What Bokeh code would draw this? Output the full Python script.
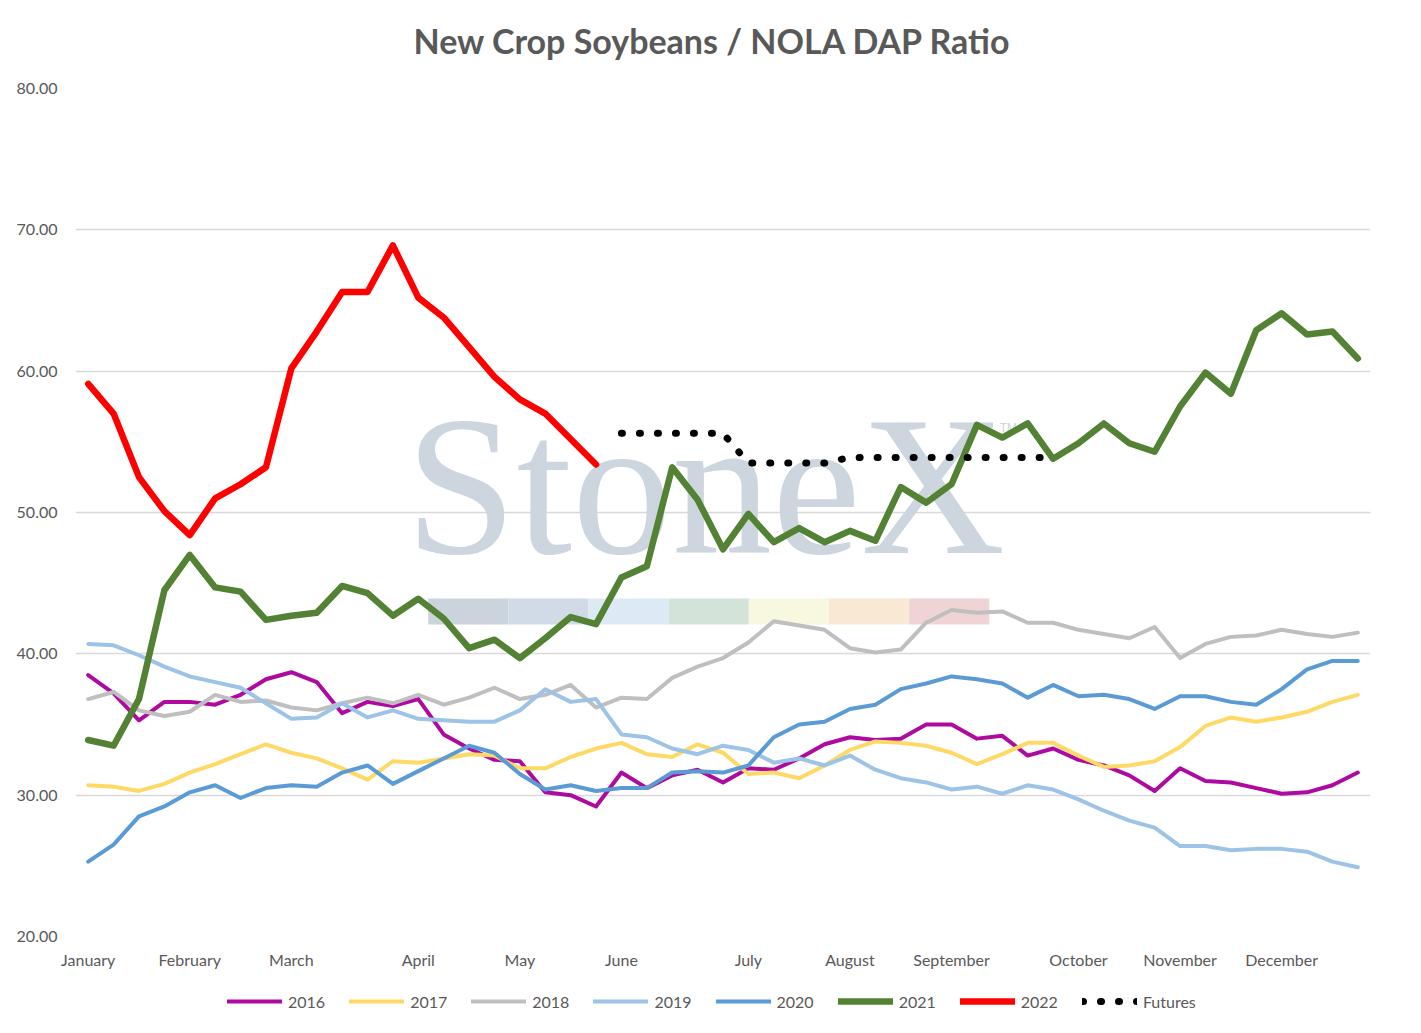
from bokeh.plotting import figure
from bokeh.layouts import column
from bokeh.models import (Range1d, FixedTicker, PrintfTickFormatter, Legend, LegendItem,
                          BoxAnnotation, Label)
from bokeh.embed import file_html
from bokeh.resources import INLINE

# ---------------- data ----------------
weeks = list(range(51))
month_ticks = [0, 4, 8, 13, 17, 21, 26, 30, 34, 39, 43, 47]
month_labels = ["January", "February", "March", "April", "May", "June", "July",
                "August", "September", "October", "November", "December"]
y_ticks = [20, 30, 40, 50, 60, 70, 80]

s2016 = [38.5, 37.2, 35.3, 36.6, 36.6, 36.4, 37.1, 38.2, 38.7, 38.0, 35.8, 36.6, 36.3, 36.8, 34.3,
         33.3, 32.5, 32.4, 30.2, 30.0, 29.2, 31.6, 30.5, 31.4, 31.8, 30.9, 31.9, 31.8, 32.6, 33.6,
         34.1, 33.9, 34.0, 35.0, 35.0, 34.0, 34.2, 32.8, 33.3, 32.5, 32.1, 31.4, 30.3, 31.9, 31.0,
         30.9, 30.5, 30.1, 30.2, 30.7, 31.6]
s2017 = [30.7, 30.6, 30.3, 30.8, 31.6, 32.2, 32.9, 33.6, 33.0, 32.6, 31.9, 31.1, 32.4, 32.3, 32.6,
         32.9, 32.8, 31.9, 31.9, 32.7, 33.3, 33.7, 32.9, 32.7, 33.6, 33.0, 31.5, 31.6, 31.2, 32.1,
         33.2, 33.8, 33.7, 33.5, 33.0, 32.2, 32.9, 33.7, 33.7, 32.8, 32.0, 32.1, 32.4, 33.4, 34.9,
         35.5, 35.2, 35.5, 35.9, 36.6, 37.1]
s2018 = [36.8, 37.3, 36.0, 35.6, 35.9, 37.1, 36.6, 36.7, 36.2, 36.0, 36.5, 36.9, 36.5, 37.1, 36.4,
         36.9, 37.6, 36.8, 37.1, 37.8, 36.2, 36.9, 36.8, 38.3, 39.1, 39.7, 40.8, 42.3, 42.0, 41.7,
         40.4, 40.1, 40.3, 42.2, 43.1, 42.9, 43.0, 42.2, 42.2, 41.7, 41.4, 41.1, 41.9, 39.7, 40.7,
         41.2, 41.3, 41.7, 41.4, 41.2, 41.5]
s2019 = [40.7, 40.6, 39.9, 39.1, 38.4, 38.0, 37.6, 36.5, 35.4, 35.5, 36.5, 35.5, 36.0, 35.4, 35.3,
         35.2, 35.2, 36.0, 37.5, 36.6, 36.8, 34.3, 34.1, 33.3, 32.9, 33.5, 33.2, 32.3, 32.6, 32.1,
         32.8, 31.8, 31.2, 30.9, 30.4, 30.6, 30.1, 30.7, 30.4, 29.7, 28.9, 28.2, 27.7, 26.4, 26.4,
         26.1, 26.2, 26.2, 26.0, 25.3, 24.9]
s2020 = [25.3, 26.5, 28.5, 29.2, 30.2, 30.7, 29.8, 30.5, 30.7, 30.6, 31.6, 32.1, 30.8, 31.7, 32.6,
         33.5, 33.0, 31.5, 30.4, 30.7, 30.3, 30.5, 30.5, 31.6, 31.7, 31.6, 32.1, 34.1, 35.0, 35.2,
         36.1, 36.4, 37.5, 37.9, 38.4, 38.2, 37.9, 36.9, 37.8, 37.0, 37.1, 36.8, 36.1, 37.0, 37.0,
         36.6, 36.4, 37.5, 38.9, 39.5, 39.5]
s2021 = [33.9, 33.5, 36.8, 44.5, 47.0, 44.7, 44.4, 42.4, 42.7, 42.9, 44.8, 44.3, 42.7, 43.9, 42.5,
         40.4, 41.0, 39.7, 41.1, 42.6, 42.1, 45.4, 46.2, 53.2, 50.9, 47.4, 49.9, 47.9, 48.9, 47.9,
         48.7, 48.0, 51.8, 50.7, 52.0, 56.2, 55.3, 56.3, 53.8, 54.9, 56.3, 54.9, 54.3, 57.5, 59.9,
         58.4, 62.9, 64.1, 62.6, 62.8, 60.9]
weeks_2022 = list(range(21))
s2022 = [59.1, 57.0, 52.5, 50.1, 48.4, 51.0, 52.0, 53.2, 60.2, 62.8, 65.6, 65.6, 68.9, 65.2, 63.8,
         61.7, 59.6, 58.0, 57.0, 55.2, 53.4]
weeks_futures = list(range(21, 39))
futures = [55.6, 55.6, 55.6, 55.6, 55.6, 53.5, 53.5, 53.5, 53.5, 53.9, 53.9, 53.9, 53.9, 53.9,
           53.9, 53.9, 53.9, 53.9]

series = [("2016", weeks, s2016, "#AE0AA0", 4),
          ("2017", weeks, s2017, "#FFD966", 4),
          ("2018", weeks, s2018, "#BFBFBF", 4),
          ("2019", weeks, s2019, "#9DC3E6", 4),
          ("2020", weeks, s2020, "#5B9BD5", 4),
          ("2021", weeks, s2021, "#548235", 6.5),
          ("2022", weeks_2022, s2022, "#FF0000", 6.5)]
futures_style = ("Futures", "black", 7, "1 17")
title_text = "New Crop Soybeans / NOLA DAP Ratio"

FONT = "Lato"
TXT = "#595959"
W = 1405


def bare(height, xr, yr):
    f = figure(width=W, height=height, output_backend="svg", toolbar_location=None,
               x_range=xr, y_range=yr, title=None,
               x_axis_location=None, y_axis_location=None,
               min_border_left=0, min_border_right=0, min_border_top=0, min_border_bottom=0)
    f.grid.visible = False
    f.outline_line_color = None
    f.background_fill_color = "white"
    f.border_fill_color = "white"
    return f


# ---------------- title strip ----------------
pt = bare(68, Range1d(0, 1), Range1d(0, 68))
pt.add_layout(Label(x=0.4922, y=28, text=title_text, text_font=FONT, text_font_style="bold",
                    text_font_size="34px", text_color=TXT, text_align="center",
                    text_baseline="middle"))

# ---------------- main chart ----------------
p = figure(width=W, height=912, output_backend="svg", toolbar_location=None,
           x_range=Range1d(-0.5, 50.5), y_range=Range1d(20, 80), title=None,
           min_border_left=75, min_border_right=35, min_border_top=20, min_border_bottom=44)
p.outline_line_color = None
p.background_fill_color = "white"
p.border_fill_color = "white"

p.xaxis.ticker = FixedTicker(ticks=month_ticks)
p.xaxis.major_label_overrides = {t: l for t, l in zip(month_ticks, month_labels)}
p.yaxis.ticker = FixedTicker(ticks=y_ticks)
p.yaxis.formatter = PrintfTickFormatter(format="%.2f")
for ax in (p.xaxis, p.yaxis):
    ax.axis_line_color = None
    ax.major_tick_line_color = None
    ax.minor_tick_line_color = None
    ax.major_label_text_font = FONT
    ax.major_label_text_font_size = "16px"
    ax.major_label_text_color = TXT
p.yaxis.major_label_standoff = 12
p.xaxis.major_label_standoff = 7
p.xgrid.grid_line_color = None
p.ygrid.grid_line_color = "#D9D9D9"
p.ygrid.grid_line_width = 1.5

# watermark
wm_colors = ["#CBD3DC", "#D1DBE7", "#DDEAF5", "#D3E3D9", "#F8F7DF", "#F9E8D3", "#F0D4D5"]
wm_left = 13.39
wm_step = 3.157
for k, c in enumerate(wm_colors):
    p.add_layout(BoxAnnotation(left=wm_left + k * wm_step, right=wm_left + (k + 1) * wm_step,
                               bottom=42.08, top=43.92, fill_color=c, fill_alpha=1.0,
                               line_color=None, level="underlay"))
p.add_layout(Label(x=24.3, y=51.9, text="StoneX", text_font="Liberation Serif",
                   text_font_size="200px", text_color="#CDD5DF", text_align="center",
                   text_baseline="middle", level="underlay"))
p.add_layout(Label(x=35.9, y=56.0, text="TM", text_font="Liberation Sans",
                   text_font_size="12px", text_color="#CDD5DF", text_align="left",
                   text_baseline="middle", level="underlay"))

for name, xs, ys, col, w in series:
    p.line(xs, ys, line_color=col, line_width=w, line_join="round", line_cap="round")
p.line(weeks_futures, futures, line_color=futures_style[1], line_width=futures_style[2],
       line_dash=futures_style[3], line_cap="round")

# ---------------- legend strip ----------------
# same series drawn again with a y range that keeps them out of view; only the legend shows
pl = bare(45, Range1d(-0.5, 50.5), Range1d(1000, 1001))
items = []
for name, xs, ys, col, w in series:
    r = pl.line(xs, ys, line_color=col, line_width=w, line_cap="round")
    items.append(LegendItem(label=name, renderers=[r]))
rf = pl.line(weeks_futures, futures, line_color=futures_style[1], line_width=futures_style[2],
             line_dash=futures_style[3], line_cap="round")
items.append(LegendItem(label=futures_style[0], renderers=[rf]))

legend = Legend(items=items, orientation="horizontal", location=(152, 14))
legend.label_text_font = FONT
legend.label_text_font_size = "16px"
legend.label_text_color = TXT
legend.glyph_width = 55
legend.glyph_height = 20
legend.label_standoff = 6
legend.spacing = 24
legend.padding = 4
legend.margin = 0
legend.border_line_color = None
legend.background_fill_alpha = 0
pl.add_layout(legend, "center")

open("out.html", "w").write(file_html(column(pt, p, pl, spacing=0), INLINE))
